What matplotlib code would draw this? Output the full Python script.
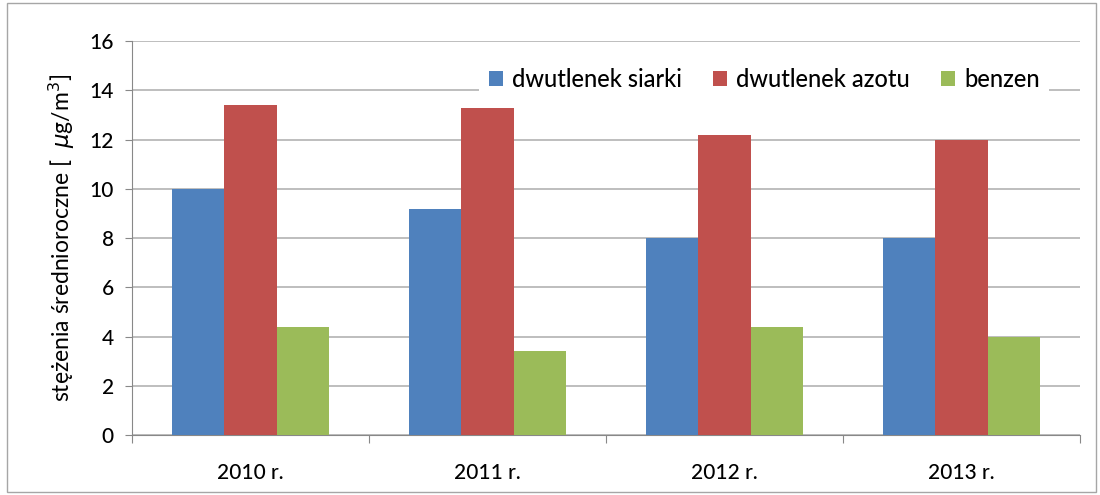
import matplotlib
matplotlib.use("Agg")
import matplotlib.pyplot as plt
from matplotlib.patches import Rectangle
import numpy as np

# dane
lata = ["2010 r.", "2011 r.", "2012 r.", "2013 r."]
dwutlenek_siarki = [10.0, 9.2, 8.0, 8.0]
dwutlenek_azotu = [13.4, 13.3, 12.2, 12.0]
benzen = [4.4, 3.4, 4.4, 4.0]

plt.rcParams['font.family'] = ['Lato', 'DejaVu Sans']
plt.rcParams['font.weight'] = 'medium'

fig = plt.figure(figsize=(11, 4.95), dpi=100)
ax = fig.add_axes([0.12, 0.121, 0.862, 0.796])

x = np.arange(len(lata))
w = 0.221
ax.bar(x - w, dwutlenek_siarki, w, color="#4F81BD", label="dwutlenek siarki", zorder=3)
ax.bar(x, dwutlenek_azotu, w, color="#C0504D", label="dwutlenek azotu", zorder=3)
ax.bar(x + w, benzen, w, color="#9BBB59", label="benzen", zorder=3)

ax.set_xlim(-0.5, 3.5)
ax.set_ylim(0, 16)
ax.set_yticks(range(0, 17, 2))
ax.yaxis.grid(True, color="#b3b3b3", linewidth=1.2)
ax.set_axisbelow(True)

ax.set_xticks(np.arange(-0.5, 4, 1))
ax.set_xticklabels([])
ax.set_xticks(x, minor=True)
ax.set_xticklabels(lata, minor=True)
ax.tick_params(axis="x", which="minor", length=0, pad=20, labelsize=15)
ax.tick_params(axis="x", which="major", length=6, color="#888888")
ax.tick_params(axis="y", length=5, color="#888888", labelsize=15, pad=8)

for s in ["top", "right"]:
    ax.spines[s].set_visible(False)
for s in ["left", "bottom"]:
    ax.spines[s].set_color("#888888")

ax.set_ylabel("stężenia średnioroczne [  $\\mu$g/m$^3$]", fontsize=16.5, labelpad=9)

leg = ax.legend(loc="upper right", bbox_to_anchor=(0.98, 0.985), ncol=3, frameon=True,
                fontsize=17, handlelength=0.6, handleheight=0.6, handletextpad=0.4,
                columnspacing=1.3, edgecolor="white", facecolor="white", framealpha=1)
leg.get_frame().set_linewidth(0)

fig.patches.append(Rectangle((0.006, 0.006), 0.99, 0.988, transform=fig.transFigure,
                             fill=False, edgecolor="#a6a6a6", linewidth=1))

fig.savefig("out.png", dpi=100)
